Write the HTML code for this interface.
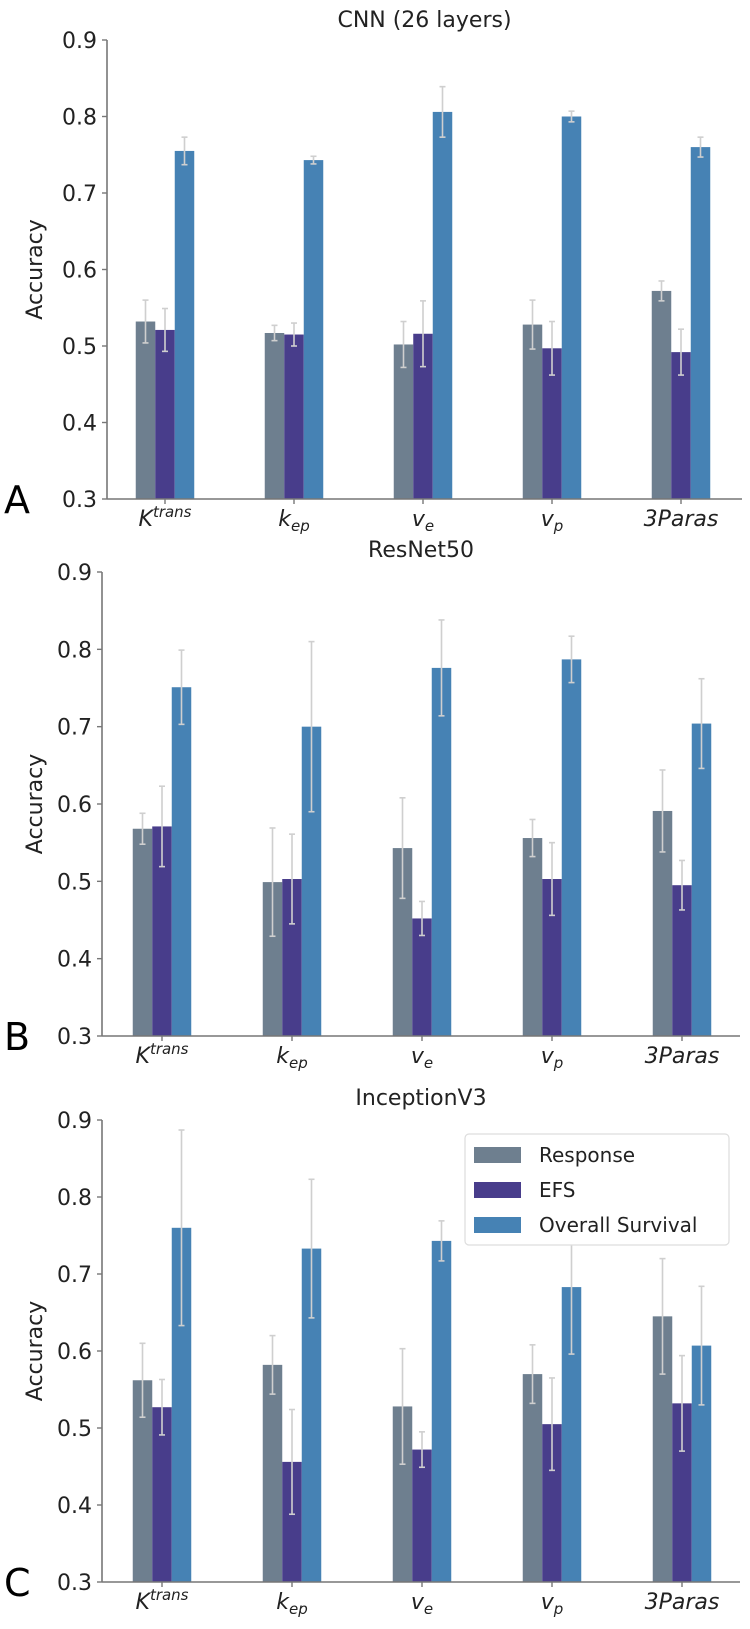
<!DOCTYPE html>
<html><head><meta charset="utf-8"><style>
html,body{margin:0;padding:0;background:#fff;}
svg{display:block;font-family:"DejaVu Sans","Liberation Sans",sans-serif;}
</style></head><body>
<svg id="chart" width="750" height="1629" viewBox="0 0 750 1629" xmlns="http://www.w3.org/2000/svg"></svg>
<script>
const categories = ["K","kep","ve","vp","3Paras"];
const seriesNames = ["Response","EFS","Overall Survival"];
const yTicks = [0.3,0.4,0.5,0.6,0.7,0.8,0.9];
const yTickLabels = ["0.3","0.4","0.5","0.6","0.7","0.8","0.9"];
const panelTitles = ["CNN (26 layers)","ResNet50","InceptionV3"];
const panelLetters = ["A","B","C"];
const cnnResponse = [0.532,0.517,0.502,0.528,0.572];
const cnnEFS      = [0.521,0.515,0.516,0.497,0.492];
const cnnOS       = [0.755,0.743,0.806,0.800,0.760];
const cnnResponseErr = [0.028,0.010,0.030,0.032,0.013];
const cnnEFSErr      = [0.028,0.015,0.043,0.035,0.030];
const cnnOSErr       = [0.018,0.005,0.033,0.007,0.013];
const resResponse = [0.568,0.499,0.543,0.556,0.591];
const resEFS      = [0.571,0.503,0.452,0.503,0.495];
const resOS       = [0.751,0.700,0.776,0.787,0.704];
const resResponseErr = [0.020,0.070,0.065,0.024,0.053];
const resEFSErr      = [0.052,0.058,0.022,0.047,0.032];
const resOSErr       = [0.048,0.110,0.062,0.030,0.058];
const incResponse = [0.562,0.582,0.528,0.570,0.645];
const incEFS      = [0.527,0.456,0.472,0.505,0.532];
const incOS       = [0.760,0.733,0.743,0.683,0.607];
const incResponseErr = [0.048,0.038,0.075,0.038,0.075];
const incEFSErr      = [0.036,0.068,0.023,0.060,0.062];
const incOSErr       = [0.127,0.090,0.026,0.087,0.077];

const panelValues = [[cnnResponse,cnnEFS,cnnOS],[resResponse,resEFS,resOS],[incResponse,incEFS,incOS]];
const panelErrors = [[cnnResponseErr,cnnEFSErr,cnnOSErr],[resResponseErr,resEFSErr,resOSErr],[incResponseErr,incEFSErr,incOSErr]];

const colors = ["#6e7f8f","#483d8b","#4682b4"];
const layouts = [
  {x0:107,x1:742,yTop:40,yBot:499,tick0:165,step:129,titleY:27},
  {x0:102,x1:740,yTop:572,yBot:1036,tick0:162,step:130,titleY:557},
  {x0:102,x1:740,yTop:1120,yBot:1582,tick0:162,step:130,titleY:1105}
];
const NS="http://www.w3.org/2000/svg";
const svg=document.getElementById('chart');
function mk(tag,attrs,parent){const e=document.createElementNS(NS,tag);for(const k in attrs)e.setAttribute(k,attrs[k]);(parent||svg).appendChild(e);return e;}

function xLabel(g,cat,x,y){
  const t=mk('text',{x:x,y:y,'text-anchor':'middle','font-size':22,'font-style':'italic',fill:'#222'},g);
  
  
  function sp(txt,sub,sup){const s=mk('tspan',{},t);if(sub){s.setAttribute('font-size',15);s.setAttribute('dy',sub);}if(sup){s.setAttribute('font-size',15);s.setAttribute('dy',sup);}s.textContent=txt;return s;}
  if(cat==="K"){sp("K");sp("trans",null,-9);}
  else if(cat==="kep"){sp("k");sp("ep",5);}
  else if(cat==="ve"){sp("v");sp("e",5);}
  else if(cat==="vp"){sp("v");sp("p",5);}
  else {t.textContent="3Paras";}
}

layouts.forEach((L,p)=>{
  const g=mk('g',{});
  
  
  const yS=v=>L.yBot-(v-0.3)/(0.6)*(L.yBot-L.yTop);
  const xS=i=>L.tick0+i*L.step;
  const bw=19.5;
  const ti=mk('text',{x:(L.x0+L.x1)/2,y:L.titleY,'text-anchor':'middle','font-size':22,fill:'#222'},g);
  
  
  ti.textContent=panelTitles[p];
  for(let s=0;s<3;s++){
    for(let i=0;i<categories.length;i++){
      const v=panelValues[p][s][i];
      const cx=xS(i)+(s-1)*bw;
      const r=mk('rect',{x:cx-bw/2,y:yS(v),width:bw,height:yS(0.3)-yS(v),fill:colors[s]},g);
      
      
    }
  }
  for(let s=0;s<3;s++){
    for(let i=0;i<categories.length;i++){
      const v=panelValues[p][s][i], e=panelErrors[p][s][i];
      const cx=xS(i)+(s-1)*bw;
      const eg=mk('g',{stroke:'#cfcfcf','stroke-width':1.6},g);
      
      
      mk('line',{x1:cx,x2:cx,y1:yS(v-e),y2:yS(v+e)},eg);
      mk('line',{x1:cx-3,x2:cx+3,y1:yS(v-e),y2:yS(v-e)},eg);
      mk('line',{x1:cx-3,x2:cx+3,y1:yS(v+e),y2:yS(v+e)},eg);
    }
  }
  const ya=mk('line',{x1:L.x0,x2:L.x0,y1:L.yTop,y2:L.yBot,stroke:'#777','stroke-width':1.6},g);
  
  
  const xa=mk('line',{x1:L.x0,x2:L.x1,y1:L.yBot,y2:L.yBot,stroke:'#777','stroke-width':1.6},g);
  
  
  yTicks.forEach((t,k)=>{
    const y=yS(t);
    mk('line',{x1:L.x0-5,x2:L.x0,y1:y,y2:y,stroke:'#777','stroke-width':1.4},g);
    const tl=mk('text',{x:L.x0-10,y:y+8,'text-anchor':'end','font-size':22,fill:'#222'},g);
    
    
    tl.textContent=yTickLabels[k];
  });
  categories.forEach((c,i)=>{
    mk('line',{x1:xS(i),x2:xS(i),y1:L.yBot,y2:L.yBot+5,stroke:'#777','stroke-width':1.4},g);
    xLabel(g,c,xS(i),L.yBot+27);
  });
  const yc=(L.yTop+L.yBot)/2;
  const yt=mk('text',{x:0,y:0,'text-anchor':'middle','font-size':22,fill:'#222',transform:`translate(42,${yc}) rotate(-90)`},g);
  
  
  yt.textContent="Accuracy";
  const lt=mk('text',{x:4,y:L.yBot+14,'font-size':38,fill:'#000'},g);
  
  
  lt.textContent=panelLetters[p];
});

const lg=mk('g',{});


mk('rect',{x:465,y:1134,width:264,height:111,rx:4,fill:'#fff',stroke:'#ddd','stroke-width':1.2},lg);
seriesNames.forEach((n,s)=>{
  const y=1154+s*35;
  const sw=mk('rect',{x:474,y:y-7,width:47,height:16,fill:colors[s]},lg);
  
  
  const t=mk('text',{x:539,y:y+8,'font-size':20,fill:'#222'},lg);
  
  
  t.textContent=n;
});
</script>
</body></html>
